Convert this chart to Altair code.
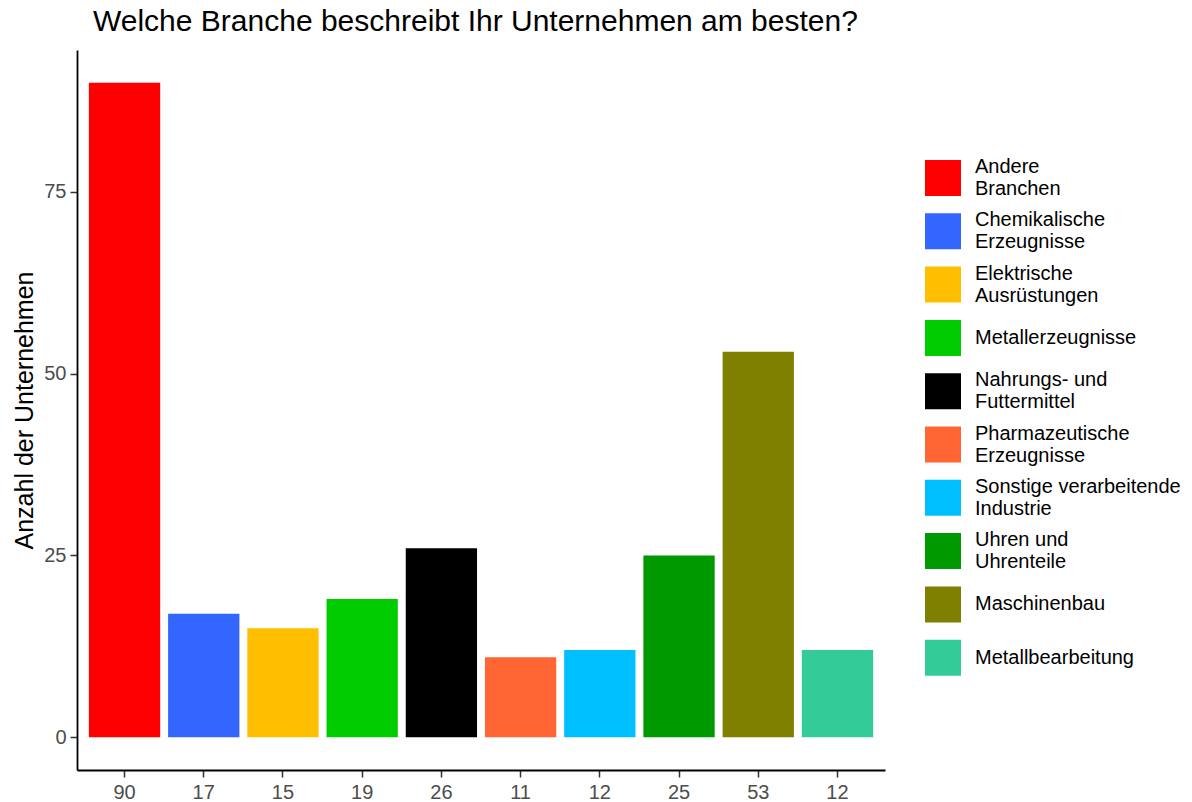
import altair as alt
import pandas as pd

branchen = [
    "Andere\nBranchen",
    "Chemikalische\nErzeugnisse",
    "Elektrische\nAusrüstungen",
    "Metallerzeugnisse",
    "Nahrungs- und\nFuttermittel",
    "Pharmazeutische\nErzeugnisse",
    "Sonstige verarbeitende\nIndustrie",
    "Uhren und\nUhrenteile",
    "Maschinenbau",
    "Metallbearbeitung",
]
anzahl = [90, 17, 15, 19, 26, 11, 12, 25, 53, 12]
farben = ["#FF0000", "#3366FF", "#FFBF00", "#00CC00", "#000000",
          "#FF6633", "#00BFFF", "#009900", "#808000", "#33CC99"]
y_ticks = [0, 25, 50, 75]

df = pd.DataFrame({"idx": list(range(len(branchen))), "Branche": branchen, "Anzahl": anzahl})

FONT = "Liberation Sans"
label_list = "[" + ",".join("'%d'" % v for v in anzahl) + "]"

chart = alt.Chart(df).mark_bar().encode(
    x=alt.X("idx:O", title=None,
            scale=alt.Scale(paddingInner=0.1, paddingOuter=0.15),
            axis=alt.Axis(labelExpr=label_list + "[datum.value]", labelAngle=0,
                          labelFontSize=20, labelColor="#4D4D4D", labelFont=FONT,
                          tickSize=7, tickWidth=1.5, tickColor="#333333",
                          domainColor="#000000", domainWidth=1.8, labelPadding=5,
                          grid=False)),
    y=alt.Y("Anzahl:Q", title="Anzahl der Unternehmen",
            scale=alt.Scale(domain=[-4.5, 94.5], nice=False, zero=False),
            axis=alt.Axis(values=y_ticks, labelFontSize=20, labelColor="#4D4D4D",
                          labelFont=FONT, tickSize=7, tickWidth=1.5, tickColor="#333333",
                          domainColor="#000000", domainWidth=1.8, labelPadding=4,
                          titleFont=FONT, titleFontSize=25, titleFontWeight="normal",
                          titleColor="#000000", titlePadding=6, grid=False)),
    y2=alt.datum(0),
    color=alt.Color("Branche:N", title=None,
                    scale=alt.Scale(domain=branchen, range=farben),
                    sort=branchen,
                    legend=alt.Legend(orient="none", legendX=848, legendY=110,
                                      symbolType="square", symbolSize=1296,
                                      symbolStrokeWidth=0, symbolOpacity=1,
                                      labelFont=FONT, labelFontSize=20, labelColor="#000000",
                                      labelOffset=14,
                                      labelExpr="split(datum.label, '\\n')",
                                      labelBaseline={"expr": "indexof(datum.label, '\\n') >= 0 ? 'line-bottom' : 'middle'"},
                                      labelLimit=400, rowPadding=11.3, gridAlign="all",
                                      padding=0)),
).properties(
    width=808, height=720,
    title=alt.TitleParams("Welche Branche beschreibt Ihr Unternehmen am besten?",
                          anchor="start", frame="group", dx=16, offset=13,
                          font=FONT, fontSize=30, fontWeight="normal", color="#000000"),
    autosize=alt.AutoSizeParams(type="none"),
    padding={"left": 69, "top": 42, "right": 297, "bottom": 32},
).configure_view(stroke=None)

chart.save("out.html", embed_options={"renderer": "svg", "actions": False})
